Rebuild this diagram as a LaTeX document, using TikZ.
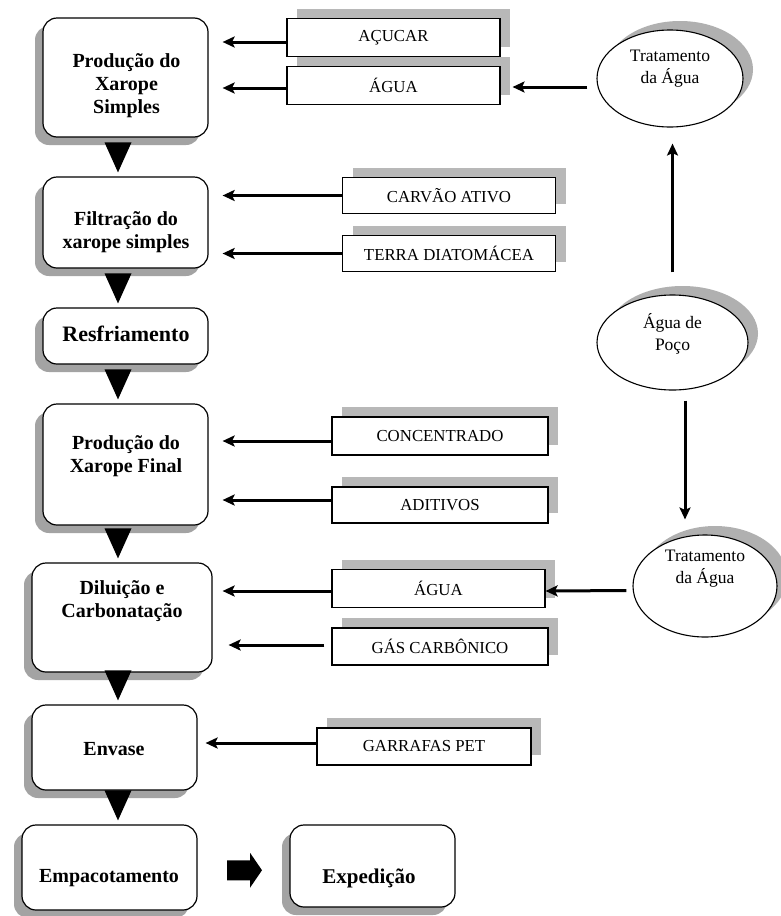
\documentclass[tikz,border=0pt]{standalone}
\usepackage{fontspec}
\setmainfont{Liberation Serif}
\usetikzlibrary{shadows,arrows.meta,calc,shapes.geometric}
\begin{document}
\begin{tikzpicture}[x=1pt,y=-1pt,
  mainbox/.style={draw, line width=1.2pt, rounded corners=14pt, fill=white, inner sep=0pt,
    drop shadow={shadow xshift=-8pt, shadow yshift=-8pt, fill=gray!72, opacity=1}},
  inbox/.style={draw, line width=1.1pt, fill=white, inner sep=0pt,
    minimum width=213pt, minimum height=38pt, font=\fontsize{16.8}{20}\selectfont,
    drop shadow={shadow xshift=10pt, shadow yshift=10pt, fill=gray!56, opacity=1}},
  oval/.style={draw, ellipse, line width=1.1pt, fill=white, inner sep=0pt,
    drop shadow={shadow xshift=10pt, shadow yshift=9pt, fill=gray!62, opacity=1}},
  mainlabel/.style={align=center, font=\fontsize{20}{23}\selectfont\bfseries},
  ovallabel/.style={align=center, font=\fontsize{17.5}{22}\selectfont},
  feed/.style={line width=3pt, -{Stealth[length=12pt,width=11pt,inset=2.5pt]}},
  downtri/.style={fill=black},
  blockarrow/.style={fill=black}
]
\fill[white] (0,0) rectangle (780,916);
\useasboundingbox (0,0) rectangle (780,916);

% main process boxes
\node[mainbox, minimum width=165pt, minimum height=119pt] (b1) at (125.5,77.5) {};
\node[mainbox, minimum width=165pt, minimum height=91pt]  (b2) at (125.5,222.5) {};
\node[mainbox, minimum width=165pt, minimum height=56pt]  (b3) at (125.5,336) {};
\node[mainbox, minimum width=165pt, minimum height=121pt] (b4) at (125.5,464.5) {};
\node[mainbox, minimum width=180pt, minimum height=109pt] (b5) at (122,617.5) {};
\node[mainbox, minimum width=165pt, minimum height=85pt]  (b6) at (114.5,747.5) {};
\node[mainbox, minimum width=175pt, minimum height=85pt]  (b7) at (109.5,867.5) {};
\node[mainbox, minimum width=165pt, minimum height=82pt]  (b8) at (372.5,866) {};

\node[mainlabel] (l1) at (126.5,86) {Produção do\\Xarope\\Simples};
\node[mainlabel] (l2) at (126,232) {Filtração do\\xarope simples};
\node[font=\fontsize{22}{26}\selectfont\bfseries] (l3) at (126,334) {Resfriamento};
\node[mainlabel] (l4) at (126,456) {Produção do\\Xarope Final};
\node[mainlabel] (l5) at (122,601) {Diluição e\\Carbonatação};
\node[mainlabel] (l6) at (114,749) {Envase};
\node[mainlabel] (l7) at (109,878) {Empacotamento};
\node[font=\fontsize{21}{25}\selectfont\bfseries] (l8) at (369,878) {Expedição};

% input boxes
\node[inbox] (i1) at (393.5,37.5) {AÇUCAR};
\node[inbox] (i2) at (393.5,85.5) {ÁGUA};
\node[inbox, minimum height=36pt] (i3) at (449,195.5) {CARVÃO ATIVO};
\node[inbox, minimum height=36pt] (i4) at (449,253.5) {TERRA DIATOMÁCEA};
\node[inbox, minimum width=216pt] (i5) at (440,436) {CONCENTRADO};
\node[inbox, minimum width=216pt, minimum height=36pt] (i6) at (440,505) {ADITIVOS};
\node[inbox] (i7) at (438.5,588.5) {ÁGUA};
\node[inbox, minimum width=216pt, minimum height=37pt] (i8) at (440,646.5) {GÁS CARBÔNICO};
\node[inbox, minimum width=214pt, minimum height=37pt] (i9) at (424,746.5) {GARRAFAS PET};

% ellipses
\node[oval, minimum width=146pt, minimum height=97pt] (e1) at (670,78.5) {};
\node[oval, minimum width=151pt, minimum height=95pt] (e2) at (672.5,342.5) {};
\node[oval, minimum width=144pt, minimum height=102pt] (e3) at (705,586) {};
\node[ovallabel] (o1) at (670,69) {Tratamento\\da Água};
\node[ovallabel] (o2) at (672.5,334) {Água de\\Poço};
\node[ovallabel] (o3) at (705,569) {Tratamento\\da Água};

% feed arrows into the process boxes
\draw[feed, shorten >=14pt] ($(i1.west)+(0,4.5)$) -- ($(i1.west -| b1.east)+(0,4.5)$);
\draw[feed, shorten >=14pt] ($(i2.west)+(0,2.5)$) -- ($(i2.west -| b1.east)+(0,2.5)$);
\draw[feed, shorten >=14pt] (i3.west) -- (i3.west -| b2.east);
\draw[feed, shorten >=14pt] (i4.west) -- (i4.west -| b2.east);
\draw[feed, shorten >=14pt] ($(i5.west)+(0,5)$) -- ($(i5.west -| b4.east)+(0,5)$);
\draw[feed, shorten >=14pt] ($(i6.west)+(0,-5)$) -- ($(i6.west -| b4.east)+(0,-5)$);
\draw[feed, shorten >=10pt] ($(i7.west)+(0,2.5)$) -- ($(i7.west -| b5.east)+(0,2.5)$);
\draw[feed, shorten <=7pt, shorten >=16pt] ($(i8.west)+(0,-1.5)$) -- ($(i8.west -| b5.east)+(0,-1.5)$);
\draw[feed, shorten >=8pt] ($(i9.west)+(0,-3.5)$) -- ($(i9.west -| b6.east)+(0,-3.5)$);

% water arrows
\draw[feed, shorten <=9pt, shorten >=12pt] ($(e1.west)+(0,8.5)$) -- ($(i2.east)+(0,1.5)$);
\draw[feed, shorten <=22pt, shorten >=16pt] (e2.north) -- (e2.north |- e1.south);
\coordinate (dd) at ($(e2.south)+(12.5,0)$);
\draw[feed, shorten <=10pt, shorten >=15pt] (dd) -- (dd |- e3.north);
\draw[feed, shorten <=6pt] ($(e3.west)+(0,4.5)$) -- ($(i7.east)+(0,2.5)$);

% down triangles between process steps
\coordinate (tx) at (118,0);
\foreach \nxt in {b2,b3,b4,b5,b6,b7}
  \fill[downtri] ($(tx |- \nxt.north)+(0,-4)$) -- ++(-13.5,-30) -- ++(27,0) -- cycle;

% block arrow Empacotamento -> Expedição
\fill[blockarrow, shift={($(b7.east)!0.5!(b8.west)+(0,3.5)$)}]
  (-16.5,-10) -- (6.5,-10) -- (6.5,-17.5) -- (18.5,0) -- (6.5,17.5) -- (6.5,10) -- (-16.5,10) -- cycle;
\end{tikzpicture}
\end{document}
